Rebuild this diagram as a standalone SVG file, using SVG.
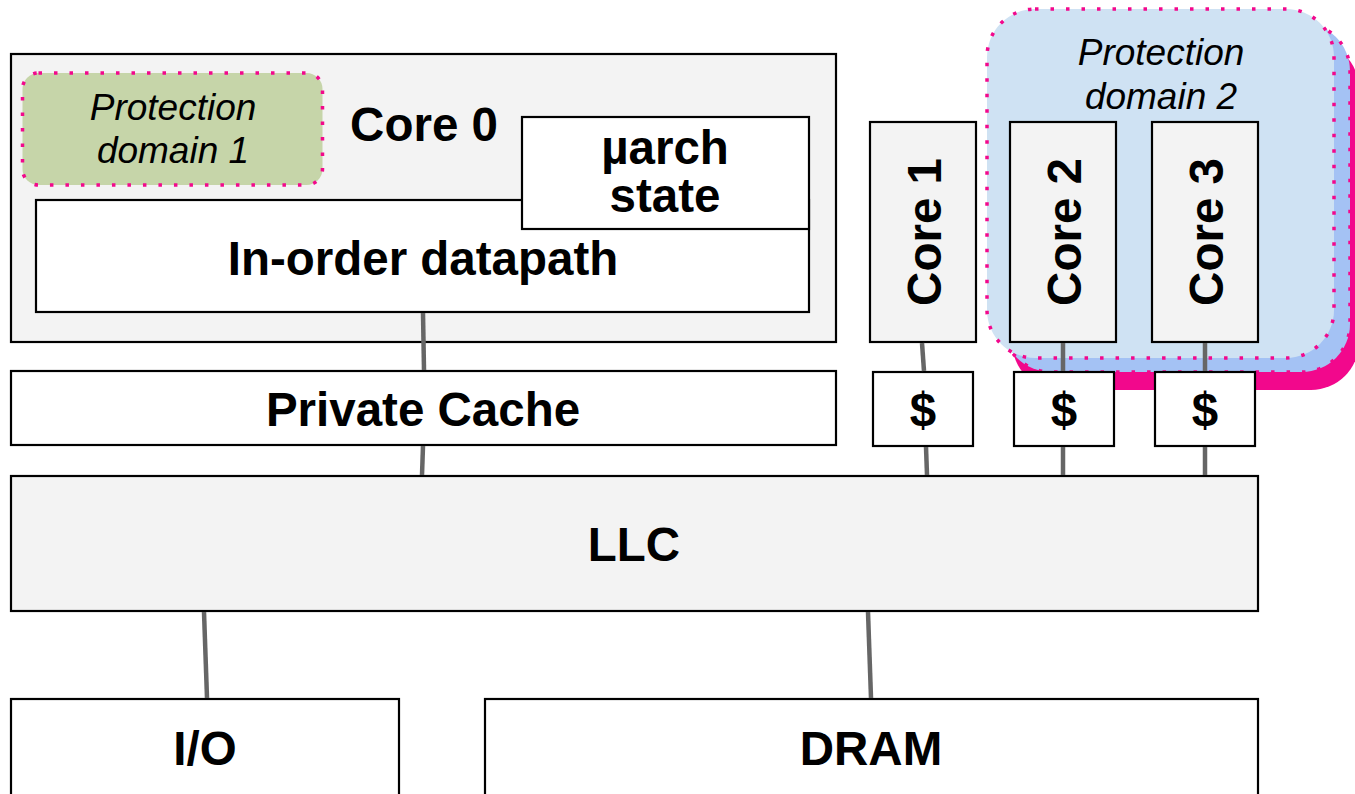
<svg xmlns="http://www.w3.org/2000/svg" width="1355" height="794" viewBox="0 0 1355 794">
  <style>
    .box { stroke: #000; stroke-width: 2.2; }
    .grey { fill: #f3f3f3; }
    .white { fill: #ffffff; }
    .lbl { font-family: "Liberation Sans", Arial, sans-serif; font-weight: bold; font-size: 47.5px; fill: #000; text-anchor: middle; }
    .dom { font-family: "Liberation Sans", Arial, sans-serif; font-style: italic; font-size: 37px; fill: #000; text-anchor: middle; }
    .dotted { stroke: #f2088c; stroke-width: 3.5; stroke-dasharray: 3.5 12; }
    .wire { stroke: #666666; stroke-width: 4.5; fill: none; }
  </style>
  <rect width="1355" height="794" fill="#ffffff"/>

  <!-- protection domain 2: rounded region with a two-layer drop shadow -->
  <g id="domain2">
    <rect x="1012" y="41" width="347" height="349" rx="48" fill="#f2088c"/>
    <rect x="1003" y="23" width="347" height="349" rx="48" fill="#a4c2f4" class="dotted"/>
    <rect x="987" y="9" width="347" height="349" rx="48" fill="#cfe2f3" class="dotted"/>
    <text class="dom" x="1161" y="65">Protection</text>
    <text class="dom" x="1161" y="109">domain 2</text>
  </g>

  <!-- core 0 with its datapath and micro-architectural state -->
  <g id="core0">
    <rect class="box grey" x="11" y="54" width="825" height="288"/>
    <text class="lbl" x="424" y="141">Core 0</text>
  </g>
  <g id="domain1">
    <rect x="22.5" y="73" width="300" height="112" rx="16" fill="#c6d5a9" class="dotted"/>
    <text class="dom" x="173" y="120">Protection</text>
    <text class="dom" x="173" y="163">domain 1</text>
  </g>
  <g id="datapath">
    <rect class="box white" x="36" y="200" width="773" height="112"/>
    <text class="lbl" x="423" y="275">In-order datapath</text>
  </g>
  <g id="uarch">
    <rect class="box white" x="522" y="117" width="287" height="112"/>
    <text class="lbl" x="665" y="164">µarch</text>
    <text class="lbl" x="665" y="212">state</text>
  </g>

  <g id="private-cache">
    <rect class="box white" x="11" y="371" width="825" height="74"/>
    <text class="lbl" x="423" y="426">Private Cache</text>
  </g>

  <!-- cores 1-3, labels run bottom to top -->
  <g id="core1">
    <rect class="box grey" x="870" y="122" width="106" height="220"/>
    <text class="lbl" transform="translate(941 232) rotate(-90)">Core 1</text>
  </g>
  <g id="core2">
    <rect class="box grey" x="1010" y="122" width="106" height="220"/>
    <text class="lbl" transform="translate(1081 232) rotate(-90)">Core 2</text>
  </g>
  <g id="core3">
    <rect class="box grey" x="1152" y="122" width="106" height="220"/>
    <text class="lbl" transform="translate(1223 232) rotate(-90)">Core 3</text>
  </g>

  <g id="cache1">
    <rect class="box white" x="873" y="372" width="100" height="74"/>
    <text class="lbl" x="923" y="426">$</text>
  </g>
  <g id="cache2">
    <rect class="box white" x="1014" y="372" width="100" height="74"/>
    <text class="lbl" x="1064" y="426">$</text>
  </g>
  <g id="cache3">
    <rect class="box white" x="1155" y="372" width="100" height="74"/>
    <text class="lbl" x="1205" y="426">$</text>
  </g>

  <g id="llc">
    <rect class="box grey" x="11" y="476" width="1247" height="135"/>
    <text class="lbl" x="634" y="561">LLC</text>
  </g>

  <g id="io">
    <rect class="box white" x="11" y="699" width="388" height="110"/>
    <text class="lbl" x="205" y="765">I/O</text>
  </g>
  <g id="dram">
    <rect class="box white" x="485" y="699" width="773" height="110"/>
    <text class="lbl" x="871" y="765">DRAM</text>
  </g>

  <g id="connectors">
    <line class="wire" x1="423" y1="313" x2="424" y2="370"/>
    <line class="wire" x1="423" y1="446" x2="422" y2="475"/>
    <line class="wire" x1="922" y1="343" x2="924" y2="371"/>
    <line class="wire" x1="926" y1="447" x2="927" y2="475"/>
    <line class="wire" x1="1063" y1="343" x2="1063" y2="371"/>
    <line class="wire" x1="1063" y1="447" x2="1063" y2="475"/>
    <line class="wire" x1="1205" y1="343" x2="1205" y2="371"/>
    <line class="wire" x1="1205" y1="447" x2="1205" y2="475"/>
    <line class="wire" x1="204" y1="612" x2="207" y2="698"/>
    <line class="wire" x1="868" y1="612" x2="871" y2="698"/>
  </g>
</svg>
